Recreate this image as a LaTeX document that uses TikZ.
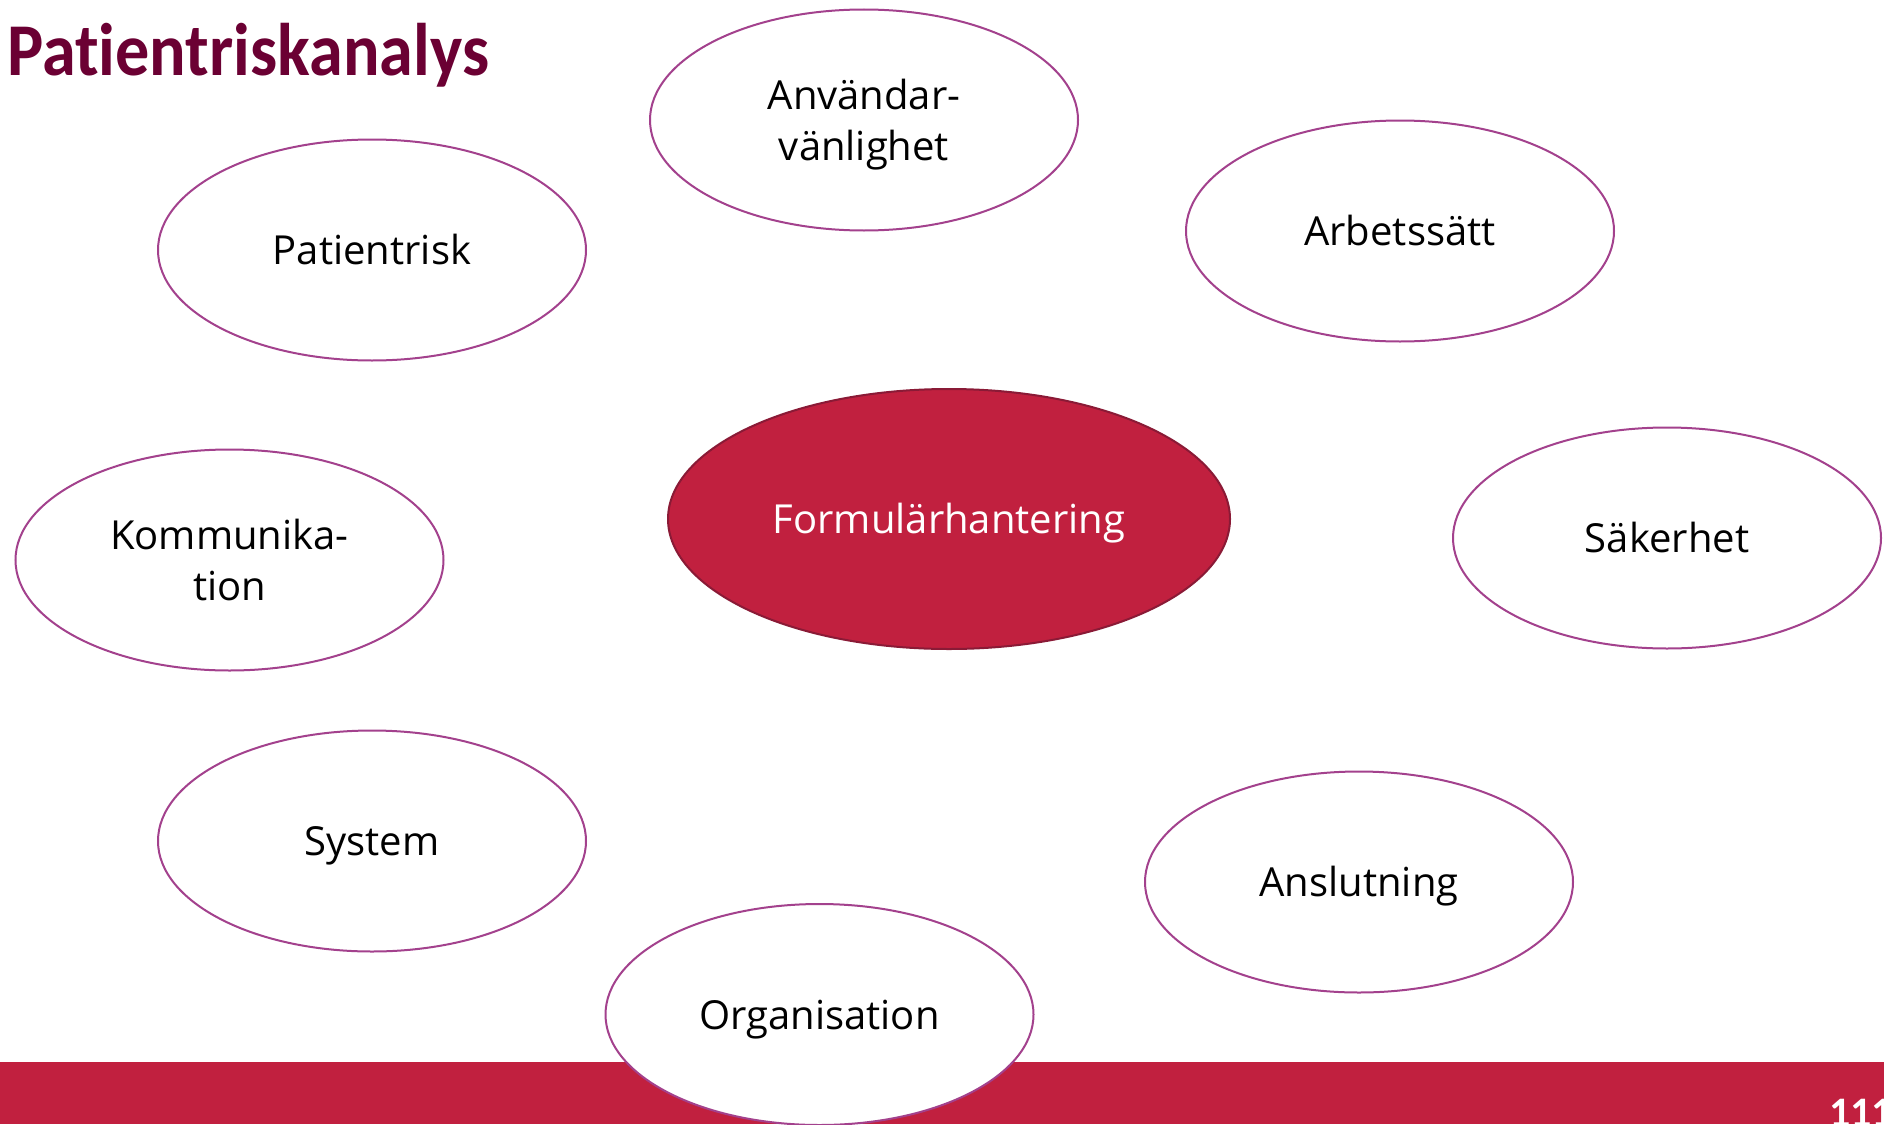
\documentclass[tikz,border=0pt]{standalone}
\usepackage{fontspec}
\setmainfont{Open Sans}
\newfontfamily\titlefont[Ligatures={NoCommon}]{Carlito}
\usetikzlibrary{shapes.geometric}
\definecolor{barred}{HTML}{C1203F}
\definecolor{ringpurple}{HTML}{A3418D}
\definecolor{titlemaroon}{HTML}{6B0033}
\definecolor{centerborder}{HTML}{8A1A36}
\begin{document}
\begin{tikzpicture}[x=1pt,y=-1pt,
  topic/.style={ellipse, draw=ringpurple, line width=2pt, fill=white,
    minimum width=428pt, minimum height=221pt, inner sep=0pt,
    font=\fontsize{40}{51}\selectfont, align=center, text=black},
  oneline/.style={text height=29pt, text depth=0pt},
  twoline/.style={text height=80pt, text depth=0pt},
  hub/.style={ellipse, draw=centerborder, line width=2pt, fill=barred,
    minimum width=562pt, minimum height=260pt, inner sep=0pt,
    font=\fontsize{40}{51}\selectfont, text=white, text height=29pt, text depth=0pt}]
\useasboundingbox (0,0) rectangle (1884,1124);
\clip (0,0) rectangle (1884,1124);
\fill[white] (0,0) rectangle (1884,1124);
% bottom bar
\fill[barred] (0,1062) rectangle (1884,1124);
\node[anchor=base west, text=white, inner sep=0pt, font=\titlefont\bfseries\fontsize{42}{42}\selectfont] (pagenum) at (1829,1126) {111};
% title
\node[anchor=base west, inner sep=0pt, text=titlemaroon] (title) at (7,76)
  {\scalebox{0.915}[1]{\titlefont\bfseries\fontsize{74.5}{74.5}\selectfont Patientriskanalys}};
% hub
\node[hub] (form) at (949,519) {Formulärhantering};
% topics
\node[topic, twoline] (anv) at (864,120) {Användar-\\vänlighet};
\node[topic, oneline] (pat) at (372,250) {Patientrisk};
\node[topic, oneline] (arb) at (1400,231) {Arbetssätt};
\node[topic, twoline] (kom) at (229.5,560) {Kommunika-\\tion};
\node[topic, oneline] (sak) at (1667,538) {Säkerhet};
\node[topic, oneline] (sys) at (372,841) {System};
\node[topic, oneline] (ans) at (1359,882) {Anslutning};
\node[topic, oneline] (org) at (819.5,1014.5) {Organisation};
\end{tikzpicture}
\end{document}
